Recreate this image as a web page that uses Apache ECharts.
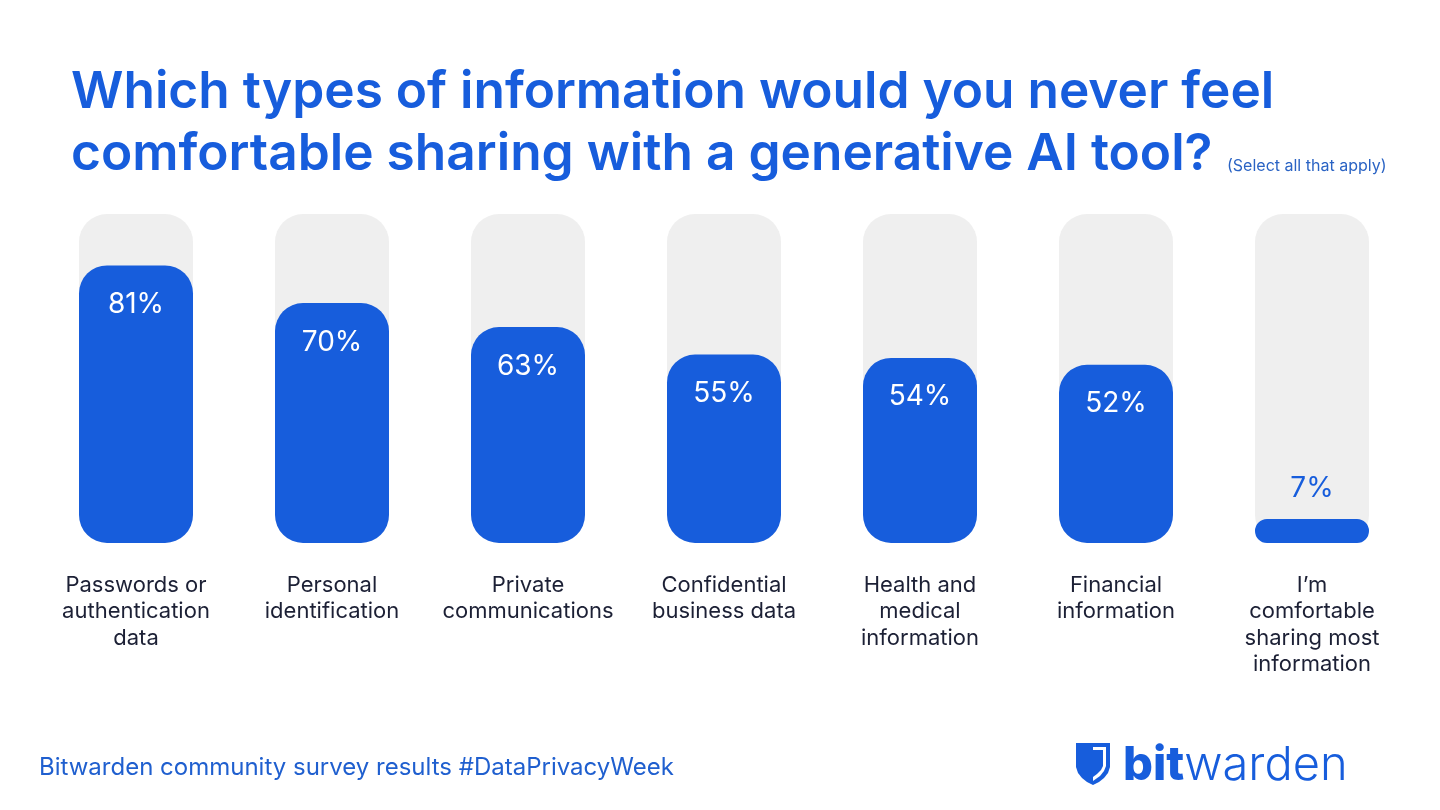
<!DOCTYPE html>
<html><head><meta charset="utf-8">
<script src="https://cdn.jsdelivr.net/npm/echarts@6/dist/echarts.min.js"></script>
<style>html,body{margin:0;padding:0;background:#fff}#c{width:1440px;height:810px}</style>
</head><body><div id="c"></div>
<script>
const categories = [
  'Passwords or\nauthentication\ndata',
  'Personal\nidentification',
  'Private\ncommunications',
  'Confidential\nbusiness data',
  'Health and\nmedical\ninformation',
  'Financial\ninformation',
  'I\u2019m\ncomfortable\nsharing most\ninformation'
];
const values = [81, 70, 63, 55, 54, 52, 7];
const outsideLabel = [false, false, false, false, false, false, true];

const BLUE = '#175DDC';
const chart = echarts.init(document.getElementById('c'), null, {renderer: 'canvas'});
const data = values.map((v, i) => ({
  value: v,
  label: outsideLabel[i]
    ? {position: 'top', distance: 16, color: BLUE}
    : {position: 'insideTop', distance: 25, color: '#ffffff'}
}));
chart.setOption({
  backgroundColor: '#ffffff',
  animation: false,
  title: [
    {
      text: 'Which types of information would you never feel\ncomfortable sharing with a generative AI tool?',
      left: 66, top: 57,
      textStyle: {fontFamily: 'Inter', fontSize: 51.4, fontWeight: 600, color: BLUE, lineHeight: 62}
    },
    {
      text: '(Select all that apply)',
      left: 1222, top: 153,
      textStyle: {fontFamily: 'Inter', fontSize: 16, fontWeight: 400, color: '#2a63c4'}
    },
    {
      text: 'Bitwarden community survey results #DataPrivacyWeek',
      left: 34, top: 751,
      textStyle: {fontFamily: 'Inter', fontSize: 24, fontWeight: 400, color: '#1f5fcf'}
    },
    {
      text: '{b|bit}{w|warden}',
      left: 1118, top: 737,
      textStyle: {rich: {
        b: {fontFamily: 'Inter', fontSize: 47, fontWeight: 800, color: BLUE},
        w: {fontFamily: 'Inter', fontSize: 47, fontWeight: 300, color: BLUE}
      }}
    }
  ],
  grid: {left: 38, right: 30, top: 214, bottom: 267},
  xAxis: {
    type: 'category', data: categories,
    axisLine: {show: false}, axisTick: {show: false},
    axisLabel: {
      interval: 0, margin: 29, fontFamily: 'Inter', fontSize: 22,
      color: '#1c2035', lineHeight: 26.5, align: 'center'
    }
  },
  yAxis: {type: 'value', min: 0, max: 96, show: false, splitLine: {show: false}},
  series: [{
    type: 'bar', data: data, barWidth: 114,
    itemStyle: {color: BLUE, borderRadius: 28},
    showBackground: true,
    backgroundStyle: {color: '#efefef', borderRadius: 28},
    label: {show: true, formatter: '{c}%', fontFamily: 'Inter', fontSize: 28, fontWeight: 400}
  }],
  graphic: [
    {
      type: 'polygon',
      shape: {points: [[1076,743],[1110,743],[1110,767],[1108,773],[1104,778],[1099,782],[1093,785],[1087,782],[1082,778],[1078,773],[1076,767]]},
      style: {fill: BLUE}
    },
    {
      type: 'polygon',
      shape: {points: [[1093,747],[1106,747],[1106,766],[1104,771],[1100,776],[1093,781]]},
      style: {fill: '#ffffff'}
    },
    {
      type: 'polygon',
      shape: {points: [[1093,750],[1103,750],[1103,766],[1101,770],[1097,774],[1093,777]]},
      style: {fill: BLUE}
    }
  ]
});
</script></body></html>
